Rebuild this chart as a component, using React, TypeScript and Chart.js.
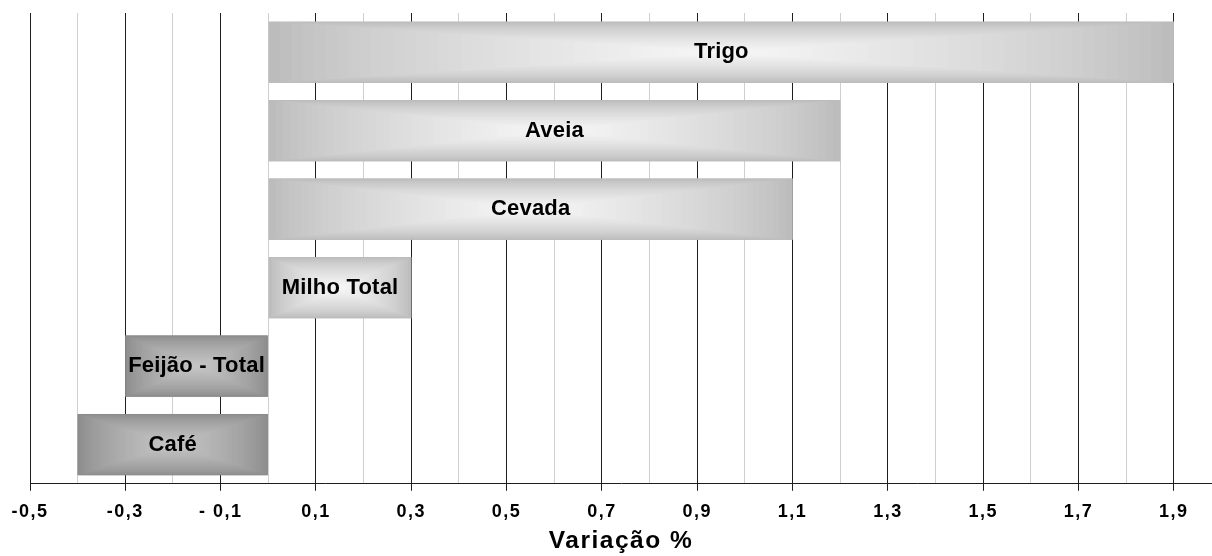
import { useEffect, useRef } from 'react';
import { Chart, registerables } from 'chart.js';

Chart.register(...registerables);

// data
const crops = ['Trigo', 'Aveia', 'Cevada', 'Milho Total', 'Feijão - Total', 'Café'];
const variation = [1.9, 1.2, 1.1, 0.3, -0.3, -0.4];
const tickValues = [-0.5, -0.4, -0.3, -0.2, -0.1, 0, 0.1, 0.2, 0.3, 0.4, 0.5, 0.6, 0.7, 0.8, 0.9, 1.0, 1.1, 1.2, 1.3, 1.4, 1.5, 1.6, 1.7, 1.8, 1.9];
const tickLabels = ['-0,5', '', '-0,3', '', '- 0,1', '', '0,1', '', '0,3', '', '0,5', '', '0,7', '', '0,9', '', '1,1', '', '1,3', '', '1,5', '', '1,7', '', '1,9'];

const FONT = '"Liberation Sans", Arial, sans-serif';
const light = [[185, 185, 185], [247, 247, 247]];
const dark = [[138, 138, 138], [198, 198, 198]];

const mix = (a: number[], b: number[], t: number) =>
  `rgb(${a.map((v, k) => Math.round(v + (b[k] - v) * t)).join(',')})`;

// letter spacing for axis text (ticks + title)
const spacing = {
  id: 'spacing',
  beforeUpdate(chart: any) { chart.ctx.letterSpacing = '1.5px'; },
  beforeDraw(chart: any) { chart.ctx.letterSpacing = '1.5px'; },
};

// rectangular "from center" gradient + label on each bar
const boxFill = {
  id: 'boxFill',
  afterDatasetsDraw(chart: any) {
    const ctx = chart.ctx;
    const meta = chart.getDatasetMeta(0);
    meta.data.forEach((bar: any, i: number) => {
      const { x, y, base, height } = bar.getProps(['x', 'y', 'base', 'height'], true);
      const left = Math.min(x, base);
      const w = Math.abs(x - base);
      const top = y - height / 2;
      const [edge, center] = variation[i] < 0 ? dark : light;
      const steps = 40;
      ctx.save();
      for (let s = 0; s < steps; s++) {
        const f = s / steps;
        const t = Math.pow((s + 0.5) / steps, 0.7);
        ctx.fillStyle = mix(edge, center, t);
        ctx.fillRect(left + f * w / 2, top + f * height / 2, w * (1 - f), height * (1 - f));
      }
      ctx.letterSpacing = '0.2px';
      ctx.font = `bold 22px ${FONT}`;
      ctx.fillStyle = '#000';
      ctx.textAlign = 'center';
      ctx.textBaseline = 'middle';
      ctx.fillText(crops[i], (x + base) / 2, y);
      ctx.restore();
    });
  },
};

export default function App() {
  const canvasRef = useRef<HTMLCanvasElement>(null);
  const chart = useRef<Chart | null>(null);

  useEffect(() => {
    if (!canvasRef.current) return;
    chart.current?.destroy();

    chart.current = new Chart(canvasRef.current, {
      type: 'bar',
      data: {
        labels: crops,
        datasets: [{
          data: variation,
          backgroundColor: variation.map(v => (v < 0 ? '#8a8a8a' : '#b9b9b9')),
          borderWidth: 0,
          barPercentage: 0.78,
          categoryPercentage: 1,
        }],
      },
      options: {
        indexAxis: 'y',
        animation: false,
        responsive: true,
        maintainAspectRatio: false,
        layout: { padding: { left: 30, right: 0, top: 13, bottom: 0 } },
        plugins: { legend: { display: false }, tooltip: { enabled: false } },
        scales: {
          y: { display: false },
          x: {
            min: -0.5,
            max: 1.98,
            afterBuildTicks: (scale: any) => { scale.ticks = tickValues.map(value => ({ value })); },
            grid: {
              color: (c: any) => (c.index % 2 === 0 ? '#1e1e1e' : '#cfcfcf'),
              tickColor: (c: any) => (c.index % 2 === 0 ? '#1e1e1e' : 'rgba(0,0,0,0)'),
              tickLength: 7,
              lineWidth: 1,
            },
            border: { display: true, color: '#1e1e1e', width: 1 },
            ticks: {
              autoSkip: false,
              maxRotation: 0,
              padding: 10,
              color: '#000',
              font: { family: FONT, size: 18, weight: 'bold' },
              callback: (_v: any, i: number) => tickLabels[i],
            },
            title: {
              display: true,
              text: 'Variação %',
              color: '#000',
              font: { family: FONT, size: 24.5, weight: 'bold' },
              padding: { top: -5.8, bottom: 0 },
            },
          },
        },
      },
      plugins: [spacing, boxFill],
    });

    return () => { chart.current?.destroy(); };
  }, []);

  return (
    <div style={{ position: 'fixed', left: 0, top: 0, width: 1212, height: 556, background: '#fff' }}>
      <canvas ref={canvasRef} />
    </div>
  );
}
